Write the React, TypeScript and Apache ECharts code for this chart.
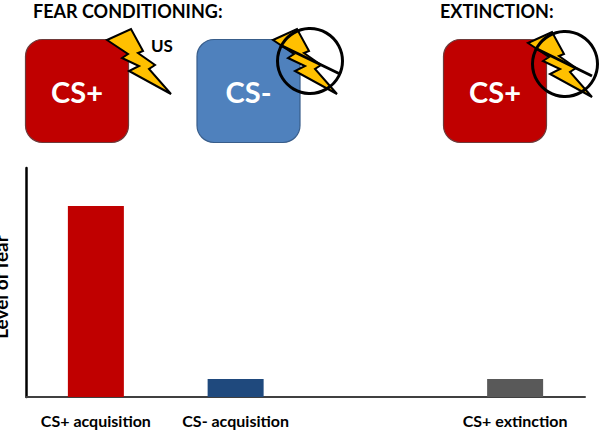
import React, { useEffect, useRef } from "react";
import * as echarts from "echarts";

const categories = ["CS+ acquisition", "CS- acquisition", "", "CS+ extinction"];
const fearValues: (number | null)[] = [83.4, 7.9, null, 7.9];
const barColors = ["#C00000", "#1F497D", "#000000", "#595959"];
const yAxisTitle = "Level of fear";
const FONT = "Lato, 'Open Sans', sans-serif";

const bolt: [number, number][] = [
  [107, 40], [131, 29], [143, 51], [138, 53], [155, 65], [149, 69],
  [171, 94], [129, 71], [139, 66], [122, 58], [128, 54],
];

const boltAt = (dx: number, dy: number) => ({
  type: "polygon",
  shape: { points: bolt.map(([x, y]) => [x + dx, y + dy]) },
  style: { fill: "#FFC000", stroke: "#000", lineWidth: 2, lineJoin: "miter" },
});

const square = (x: number, fill: string, stroke: string, label: string) => [
  {
    type: "rect",
    shape: { x, y: 39.5, width: 103, height: 103, r: 17 },
    style: { fill, stroke, lineWidth: 1.2 },
  },
  {
    type: "text",
    x: x + 51.5,
    y: 91,
    style: {
      text: label, fill: "#fff", font: `bold 29px ${FONT}`,
      textAlign: "center", textVerticalAlign: "middle",
    },
  },
];

const noSign = (cx: number, cy: number, x1: number, y1: number, x2: number, y2: number) => [
  {
    type: "circle",
    shape: { cx, cy, r: 32.5 },
    style: { fill: "none", stroke: "#000", lineWidth: 3 },
  },
  {
    type: "line",
    shape: { x1, y1, x2, y2 },
    style: { stroke: "#000", lineWidth: 3 },
  },
];

const title = (text: string, x: number, y: number, size = 18) => ({
  type: "text",
  x,
  y,
  style: { text, fill: "#000", font: `bold ${size}px ${FONT}`, textVerticalAlign: "middle" },
});

export default function App() {
  const ref = useRef<HTMLDivElement>(null);
  useEffect(() => {
    const chart = echarts.init(ref.current!, undefined, { renderer: "svg" });
    chart.setOption({
      animation: false,
      backgroundColor: "#fff",
      grid: { left: 26, right: 15, top: 168, bottom: 33, containLabel: false, outerBoundsMode: "none" },
      xAxis: {
        type: "category",
        data: categories,
        axisLine: { show: true, onZero: false, lineStyle: { color: "#404040", width: 2 } },
        axisTick: { show: false },
        axisLabel: { interval: 0, margin: 15, fontFamily: FONT, fontWeight: "bold", fontSize: 16, color: "#000" },
      },
      yAxis: {
        type: "value",
        min: 0,
        max: 100,
        splitLine: { show: false },
        axisTick: { show: false },
        axisLabel: { show: false },
        axisLine: { show: true, lineStyle: { color: "#000", width: 2.5 } },
        name: yAxisTitle,
        nameLocation: "middle",
        nameGap: 16,
        nameRotate: 90,
        nameTextStyle: { fontFamily: FONT, fontWeight: "bold", fontSize: 19, color: "#000", padding: [0, 0, 0, -9] },
      },
      series: [
        {
          type: "bar",
          barWidth: 56,
          data: fearValues.map((value, i) => ({ value, itemStyle: { color: barColors[i] } })),
        },
      ],
      graphic: {
        elements: [
          title("FEAR CONDITIONING:", 33, 10.5),
          title("EXTINCTION:", 440, 10.5),
          title("US", 151, 45, 17),
          ...square(25.5, "#C00000", "#6E3A3A", "CS+"),
          boltAt(0, 0),
          ...square(197, "#4F81BD", "#385D8A", "CS-"),
          boltAt(166, 0),
          ...noSign(310, 61, 280, 45, 340, 74),
          ...square(443.5, "#C00000", "#6E3A3A", "CS+"),
          boltAt(421, 3),
          ...noSign(565, 64, 535, 48, 592, 76),
        ],
      },
    });
    return () => chart.dispose();
  }, []);
  return <div ref={ref} style={{ position: "absolute", left: 0, top: 0, width: 600, height: 430 }} />;
}
